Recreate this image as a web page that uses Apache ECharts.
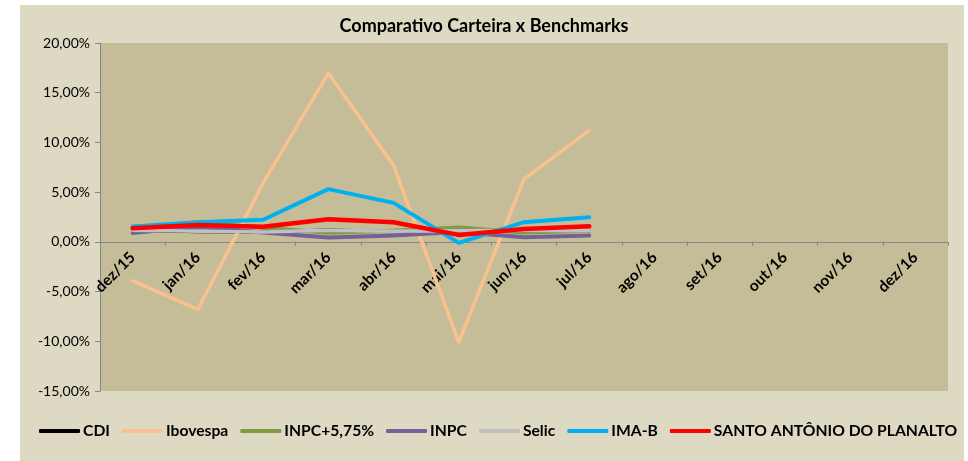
<!DOCTYPE html>
<html><head><meta charset="utf-8">
<script src="https://cdn.jsdelivr.net/npm/echarts@6/dist/echarts.min.js"></script>
<style>html,body{margin:0;padding:0;background:#fff}#c{width:968px;height:461px}</style>
</head><body><div id="c"></div>
<script>
var categories = ['dez/15','jan/16','fev/16','mar/16','abr/16','mai/16','jun/16','jul/16','ago/16','set/16','out/16','nov/16','dez/16'];
var cdi      = [1.16, 1.05, 1.00, 1.16, 1.05, 1.11, 1.16, 1.11];
var ibovespa = [-3.93, -6.79, 5.91, 16.97, 7.70, -10.09, 6.30, 11.22];
var inpc575  = [1.37, 1.98, 1.42, 0.91, 1.11, 1.45, 0.94, 1.11];
var inpc     = [0.90, 1.51, 0.95, 0.44, 0.64, 0.98, 0.47, 0.64];
var selic    = [1.16, 1.06, 1.00, 1.16, 1.06, 1.11, 1.16, 1.11];
var imab     = [1.54, 1.96, 2.22, 5.30, 3.92, -0.10, 1.98, 2.48];
var santo    = [1.37, 1.70, 1.53, 2.27, 1.97, 0.70, 1.30, 1.57];
var yTicks = {min: -15, max: 20, interval: 5};

var FONT = 'Lato';
var GRID = {left: 100, right: 20, top: 43, bottom: 70};
var plotH = 461 - GRID.top - GRID.bottom;
// move the category axis up to the zero line of the value scale
var zeroOffset = -plotH * (0 - yTicks.min) / (yTicks.max - yTicks.min);

function mk(name, data, color, width) {
  return {name: name, type: 'line', data: data, symbol: 'none', smooth: false,
    lineStyle: {color: color, width: width, cap: 'round', join: 'round'},
    itemStyle: {color: color}, emphasis: {disabled: true}};
}
var chart = echarts.init(document.getElementById('c'), null, {renderer: 'canvas'});
chart.setOption({
  animation: false,
  backgroundColor: '#ffffff',
  graphic: [{type: 'rect', z: -100, silent: true, shape: {x: 20, y: 5, width: 944, height: 456}, style: {fill: '#ddd9c3'}}],
  title: {text: 'Comparativo Carteira x Benchmarks', left: 'center', top: 12,
    textStyle: {fontFamily: FONT, fontWeight: 'bold', fontSize: 18, color: '#000'}},
  grid: {left: GRID.left, right: GRID.right, top: GRID.top, bottom: GRID.bottom, show: true, backgroundColor: '#c4bd97', borderWidth: 0},
  legend: {left: 34, top: 418, width: 935, itemWidth: 41, itemHeight: 4, itemGap: 12, icon: 'roundRect',
    textStyle: {fontFamily: FONT, fontWeight: 'bold', fontSize: 15.7, color: '#000', padding: [0,0,0,-2]},
    data: ['CDI','Ibovespa','INPC+5,75%','INPC','Selic','IMA-B','SANTO ANTÔNIO DO PLANALTO']},
  xAxis: {type: 'category', data: categories, boundaryGap: true, position: 'bottom', offset: zeroOffset,
    axisLine: {onZero: false, lineStyle: {color: '#868686', width: 1}},
    axisTick: {show: true, length: 4, lineStyle: {color: '#868686'}},
    axisLabel: {rotate: 45, margin: 13, interval: 0, fontFamily: FONT, fontWeight: 'bold', fontSize: 15.5, color: '#000'},
    splitLine: {show: false}},
  yAxis: {type: 'value', min: yTicks.min, max: yTicks.max, interval: yTicks.interval,
    axisLine: {show: true, lineStyle: {color: '#868686', width: 1}},
    axisTick: {show: true, length: 5, lineStyle: {color: '#868686'}},
    axisLabel: {margin: 10, fontFamily: FONT, fontSize: 14, color: '#000',
      formatter: function (v) { return v.toFixed(2).replace('.', ',') + '%'; }},
    splitLine: {show: false}},
  series: [
    mk('CDI', cdi, '#000000', 3.5),
    mk('Ibovespa', ibovespa, '#fac090', 3.5),
    mk('INPC+5,75%', inpc575, '#7f9b45', 4),
    mk('INPC', inpc, '#74619a', 4),
    mk('Selic', selic, '#c0c0c0', 3.5),
    mk('IMA-B', imab, '#00b0f0', 4),
    mk('SANTO ANTÔNIO DO PLANALTO', santo, '#ff0000', 4.5)
  ]
});
</script></body></html>
